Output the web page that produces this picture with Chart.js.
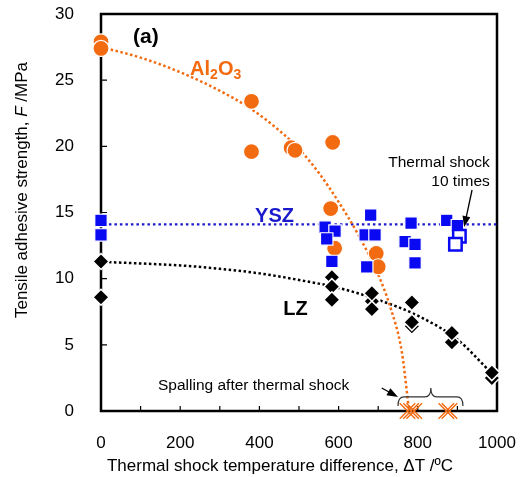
<!DOCTYPE html>
<html>
<head>
<meta charset="utf-8">
<script src="https://cdn.jsdelivr.net/npm/chart.js@4/dist/chart.umd.min.js"></script>
<style>
  body { margin: 0; background: #fff; }
  #wrap { width: 525px; height: 477px; }
</style>
</head>
<body>
<div id="wrap"><canvas id="chart" width="525" height="477"></canvas></div>
<script>
// Al2O3 - orange circles
const al2o3X = [0, 0, 380, 380, 480, 490, 585, 580, 590, 695, 700];
const al2o3Y = [27.9, 27.4, 23.4, 19.6, 19.9, 19.7, 20.3, 15.3, 12.3, 11.9, 10.9];
// Al2O3 spalled (plotted at 0)
const spallX = [774, 783, 791, 872, 880];
const spallY = [0, 0, 0, 0, 0];
// YSZ - blue squares
const yszX = [0, 0, 566, 591, 570, 583, 681, 667, 692, 671, 783, 768, 793, 793, 873, 900];
const yszY = [14.4, 13.3, 13.9, 13.6, 13.0, 11.3, 14.8, 13.3, 13.3, 10.9, 14.2, 12.8, 12.6, 11.2, 14.4, 14.0];
// YSZ after 10 thermal shocks - hollow squares
const ysz10X = [905, 895];
const ysz10Y = [13.2, 12.6];
// LZ - black diamonds (rear marker first)
const lzX = [0, 0, 583, 583, 583, 684, 684, 684, 785, 785, 785, 886, 886, 987, 987];
const lzY = [11.3, 8.6, 10.1, 9.4, 8.4, 8.3, 8.9, 7.7, 8.2, 6.4, 6.7, 5.2, 5.9, 2.5, 2.9];

// trend curves
const al2o3FitX = [0, 100, 200, 300, 380, 450, 500, 550, 600, 650, 700, 730, 760, 778];
const al2o3FitY = [27.5, 26.7, 25.6, 24.2, 22.8, 21.2, 19.8, 18.0, 15.8, 13.3, 10.3, 7.9, 4.4, 0];
const yszFitX = [20, 1000];
const yszFitY = [14.1, 14.1];
const lzFitX = [20, 100, 200, 300, 400, 500, 600, 700, 800, 900, 985];
const lzFitY = [11.25, 11.15, 11.0, 10.75, 10.4, 9.9, 9.3, 8.4, 7.2, 5.4, 2.9];

const xTicks = { min: 0, max: 1000, step: 100, labelEvery: 200 };
const yTicks = { min: 0, max: 30, step: 5 };

const ORANGE = '#f26b10';
const BLUE = '#0a0af2';
const FONT = '"Liberation Sans", Arial, sans-serif';

function pts(xs, ys) {
    return xs.map((x, i) => ({ x: x, y: ys[i] }));
}

const framePlugin = {
    id: 'frame',
    beforeDatasetsDraw(chart) {
        const { ctx, chartArea: a, scales } = chart;
        ctx.save();
        ctx.strokeStyle = '#000';
        ctx.lineWidth = 2.5;
        ctx.strokeRect(a.left, a.top, a.right - a.left, a.bottom - a.top);
        ctx.lineWidth = 1.2;
        ctx.beginPath();
        scales.x.ticks.forEach(t => {
            const x = scales.x.getPixelForValue(t.value);
            ctx.moveTo(x, a.bottom);
            ctx.lineTo(x, a.bottom - 5);
        });
        scales.y.ticks.forEach(t => {
            const y = scales.y.getPixelForValue(t.value);
            ctx.moveTo(a.left, y);
            ctx.lineTo(a.left + 6, y);
        });
        ctx.stroke();
        ctx.restore();
    }
};

function arrow(ctx, x1, y1, x2, y2) {
    const ang = Math.atan2(y2 - y1, x2 - x1);
    const len = 11, half = 4;
    ctx.beginPath();
    ctx.moveTo(x1, y1);
    ctx.lineTo(x2 - Math.cos(ang) * len * 0.8, y2 - Math.sin(ang) * len * 0.8);
    ctx.stroke();
    ctx.beginPath();
    ctx.moveTo(x2, y2);
    ctx.lineTo(x2 - Math.cos(ang) * len - Math.sin(ang) * half, y2 - Math.sin(ang) * len + Math.cos(ang) * half);
    ctx.lineTo(x2 - Math.cos(ang) * len + Math.sin(ang) * half, y2 - Math.sin(ang) * len - Math.cos(ang) * half);
    ctx.closePath();
    ctx.fill();
}

const notesPlugin = {
    id: 'notes',
    afterDraw(chart) {
        const { ctx, scales } = chart;
        const X = v => scales.x.getPixelForValue(v);
        const Y = v => scales.y.getPixelForValue(v);
        ctx.save();
        ctx.textBaseline = 'alphabetic';

        ctx.fillStyle = '#000';
        ctx.font = 'bold 21px ' + FONT;
        ctx.textAlign = 'left';
        ctx.fillText('(a)', X(81), Y(27.8));

        // Al2O3 with subscripts
        ctx.fillStyle = ORANGE;
        let x = X(225);
        const by = Y(25.4);
        [['Al', 0], ['2', 1], ['O', 0], ['3', 1]].forEach(([s, sub]) => {
            ctx.font = sub ? 'bold 14px ' + FONT : 'bold 20px ' + FONT;
            ctx.fillText(s, x, by + (sub ? 4 : 0));
            x += ctx.measureText(s).width;
        });

        ctx.font = 'bold 20px ' + FONT;
        ctx.fillStyle = '#1a1acc';
        ctx.fillText('YSZ', X(389), Y(14.3));
        ctx.fillStyle = '#000';
        ctx.fillText('LZ', X(460), Y(7.25));

        ctx.font = '15.5px ' + FONT;
        ctx.textAlign = 'right';
        ctx.fillText('Thermal shock', X(982), Y(18.45));
        ctx.fillText('10 times', X(982), Y(17.0));
        ctx.textAlign = 'left';
        ctx.fillText('Spalling after thermal shock', X(144), Y(1.59));

        ctx.strokeStyle = '#000';
        ctx.lineWidth = 1.3;
        arrow(ctx, X(937), Y(16.7), X(917), Y(13.9));
        arrow(ctx, X(709), Y(1.74), X(750), Y(1.06));

        // curly brace over the spalled samples
        const l = X(750), r = X(914), m = X(833);
        const yb = Y(1.06), yt = Y(0.38), yp = Y(1.74);
        ctx.strokeStyle = '#333';
        ctx.lineWidth = 1.2;
        ctx.beginPath();
        ctx.moveTo(l, yt);
        ctx.quadraticCurveTo(l, yb, l + 6, yb);
        ctx.lineTo(m - 6, yb);
        ctx.quadraticCurveTo(m, yb, m, yp);
        ctx.quadraticCurveTo(m, yb, m + 6, yb);
        ctx.lineTo(r - 6, yb);
        ctx.quadraticCurveTo(r, yb, r, yt);
        ctx.stroke();

        // axis titles
        ctx.fillStyle = '#000';
        ctx.font = '17px ' + FONT;
        ctx.textAlign = 'center';
        ctx.textBaseline = 'middle';
        ctx.fillText('Thermal shock temperature difference, \u0394T /\u00baC', 280, 466);

        const parts = [['Tensile adhesive strength, ', ''], ['F', 'italic '], [' /MPa', '']];
        let total = 0;
        parts.forEach(([s, st]) => { ctx.font = st + '17px ' + FONT; total += ctx.measureText(s).width; });
        ctx.translate(22, 190);
        ctx.rotate(-Math.PI / 2);
        ctx.textAlign = 'left';
        let tx = -total / 2;
        parts.forEach(([s, st]) => {
            ctx.font = st + '17px ' + FONT;
            ctx.fillText(s, tx, 0);
            tx += ctx.measureText(s).width;
        });
        ctx.restore();
    }
};

const fitLine = (xs, ys, color, dash, width) => ({
    type: 'line',
    data: pts(xs, ys),
    borderColor: color,
    borderWidth: width,
    borderDash: dash,
    pointRadius: 0,
    cubicInterpolationMode: 'monotone',
    fill: false,
    clip: false,
    order: 10
});

new Chart(document.getElementById('chart'), {
    type: 'scatter',
    data: {
        datasets: [
            fitLine(al2o3FitX, al2o3FitY, ORANGE, [2.5, 2.5], 2.5),
            fitLine(lzFitX, lzFitY, '#000', [2.5, 2.5], 2.5),
            fitLine(yszFitX, yszFitY, '#1a1acc', [2.5, 3], 2.2),
            {
                data: pts(al2o3X, al2o3Y), pointStyle: 'circle', pointRadius: 8,
                backgroundColor: ORANGE, borderColor: '#fff', borderWidth: 1.2, clip: false, order: 5
            },
            {
                data: pts(spallX, spallY), pointStyle: 'crossRot', pointRadius: 11,
                borderColor: ORANGE, borderWidth: 1.4, clip: false, order: 5
            },
            {
                data: pts(yszX, yszY), pointStyle: 'rect', pointRadius: 8.8,
                backgroundColor: BLUE, borderColor: '#fff', borderWidth: 1.2, clip: false, order: 4
            },
            {
                data: pts(ysz10X, ysz10Y), pointStyle: 'rect', pointRadius: 8.8,
                backgroundColor: '#fff', borderColor: BLUE, borderWidth: 2.5, clip: false, order: 3
            },
            {
                data: pts(lzX, lzY), pointStyle: 'rectRot', pointRadius: 8,
                backgroundColor: '#000', borderColor: '#fff', borderWidth: 1.5, clip: false, order: 2
            }
        ]
    },
    options: {
        responsive: false,
        animation: false,
        events: [],
        layout: { padding: { left: 0, right: 28, top: 14, bottom: 0 } },
        plugins: { legend: { display: false }, tooltip: { enabled: false } },
        scales: {
            x: {
                type: 'linear', min: xTicks.min, max: xTicks.max,
                grid: { display: false }, border: { display: false },
                ticks: {
                    stepSize: xTicks.step, autoSkip: false, maxRotation: 0, padding: 14,
                    color: '#000', font: { family: FONT, size: 17 },
                    callback: v => (v % xTicks.labelEvery === 0 ? v : '')
                },
                afterFit: s => { s.height = 66; s.paddingLeft = 0; s.paddingRight = 0; }
            },
            y: {
                min: yTicks.min, max: yTicks.max,
                grid: { display: false }, border: { display: false },
                ticks: {
                    stepSize: yTicks.step, padding: 19,
                    color: '#000', font: { family: FONT, size: 17 }
                },
                afterFit: s => { s.width = 101; s.paddingTop = 0; s.paddingBottom = 0; }
            }
        }
    },
    plugins: [framePlugin, notesPlugin]
});
</script>
</body>
</html>
